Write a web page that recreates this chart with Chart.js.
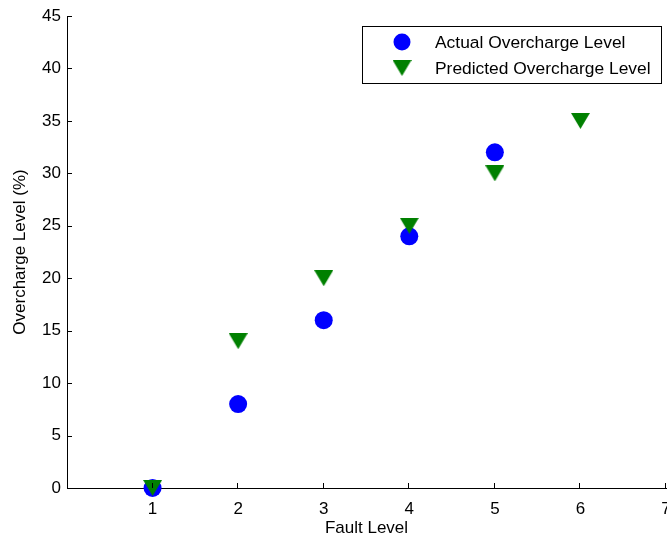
<!DOCTYPE html>
<html>
<head>
<meta charset="utf-8">
<title>Overcharge Level vs Fault Level</title>
<script src="https://cdn.jsdelivr.net/npm/chart.js@4"></script>
<style>
  html, body { margin: 0; padding: 0; background: #fff; }
  canvas { display: block; }
</style>
</head>
<body>
<canvas id="chart" width="667" height="539"></canvas>
<script>
// fault levels and measured / predicted overcharge (%)
const faultLevels = [1, 2, 3, 4, 5, 6];
const actualLevel = [0, 8, 16, 24, 32];
const predictedLevel = [0, 14, 20, 25, 30, 35];
const xTickValues = [1, 2, 3, 4, 5, 6, 7];
const yTickValues = [0, 5, 10, 15, 20, 25, 30, 35, 40, 45];

const seriesNames = ['Actual Overcharge Level', 'Predicted Overcharge Level'];
const FONT = '"Liberation Sans", Arial, Helvetica, sans-serif';
const FONT_SIZE = 17;

// downward triangle marker, centred on its bounding box
function makeTriangle(w, h, color) {
  const c = document.createElement('canvas');
  c.width = w; c.height = h;
  const g = c.getContext('2d');
  g.fillStyle = color;
  g.beginPath();
  g.moveTo(0, 0);
  g.lineTo(w, 0);
  g.lineTo(w / 2, h);
  g.closePath();
  g.fill();
  return c;
}
const triangle = makeTriangle(19, 16, '#008000');

const actualPoints = actualLevel.map((v, i) => ({ x: faultLevels[i], y: v }));
const predictedPoints = predictedLevel.map((v, i) => ({ x: faultLevels[i], y: v }));

// inward tick marks, matlab style
const innerTicks = {
  id: 'innerTicks',
  afterDraw(chart) {
    const { ctx, scales: { x, y }, chartArea } = chart;
    ctx.save();
    ctx.strokeStyle = '#000';
    ctx.lineWidth = 1;
    ctx.beginPath();
    xTickValues.forEach(v => {
      const px = Math.round(x.getPixelForValue(v)) - 0.5;
      ctx.moveTo(px, chartArea.bottom);
      ctx.lineTo(px, chartArea.bottom - 5);
    });
    yTickValues.forEach(v => {
      const py = Math.round(y.getPixelForValue(v)) + 0.5;
      ctx.moveTo(chartArea.left, py);
      ctx.lineTo(chartArea.left + 5, py);
    });
    ctx.stroke();
    ctx.restore();
  }
};

// boxed legend in the upper right of the axes
const boxLegend = {
  id: 'boxLegend',
  afterDraw(chart) {
    const { ctx } = chart;
    const left = 362.5, top = 26.5, w = 299, h = 57;
    ctx.save();
    ctx.fillStyle = '#fff';
    ctx.fillRect(left, top, w, h);
    ctx.strokeStyle = '#000';
    ctx.lineWidth = 1;
    ctx.strokeRect(left, top, w, h);

    ctx.fillStyle = '#0000ff';
    ctx.beginPath();
    ctx.arc(402, 42, 8.5, 0, Math.PI * 2);
    ctx.fill();
    ctx.drawImage(triangle, 402 - triangle.width / 2, 68 - triangle.height / 2);

    ctx.fillStyle = '#000';
    ctx.font = '17.4px ' + FONT;
    ctx.textBaseline = 'middle';
    ctx.textAlign = 'left';
    ctx.fillText(seriesNames[0], 435, 43);
    ctx.fillText(seriesNames[1], 435, 69);
    ctx.restore();
  }
};

new Chart(document.getElementById('chart'), {
  type: 'scatter',
  data: {
    datasets: [
      {
        label: seriesNames[0],
        data: actualPoints,
        pointStyle: 'circle',
        pointRadius: 9,
        pointHoverRadius: 9,
        backgroundColor: '#0000ff',
        borderColor: '#0000ff',
        borderWidth: 0,
        clip: false,
        order: 1
      },
      {
        label: seriesNames[1],
        data: predictedPoints,
        pointStyle: triangle,
        pointRadius: 9,
        backgroundColor: '#008000',
        borderColor: '#008000',
        clip: false,
        order: 0
      }
    ]
  },
  options: {
    responsive: false,
    animation: false,
    events: [],
    layout: { autoPadding: false, padding: { top: 16, right: 1, left: 0, bottom: 0 } },
    plugins: {
      legend: { display: false },
      tooltip: { enabled: false }
    },
    scales: {
      x: {
        type: 'linear',
        min: 0,
        max: 7,
        grid: { display: false, drawTicks: false },
        border: { display: true, color: '#000', width: 1 },
        ticks: {
          stepSize: 1,
          padding: 11,
          color: '#000',
          maxRotation: 0,
          font: { family: FONT, size: FONT_SIZE },
          callback: v => (xTickValues.includes(v) ? String(v) : '')
        },
        title: {
          display: true,
          text: 'Fault Level',
          color: '#000',
          font: { family: FONT, size: FONT_SIZE },
          padding: { top: 0, bottom: 0 }
        },
        afterFit(scale) {
          scale.height = 51;
          scale.paddingLeft = 0;
          scale.paddingRight = 0;
        }
      },
      y: {
        type: 'linear',
        min: 0,
        max: 45,
        grid: { display: false, drawTicks: false },
        border: { display: true, color: '#000', width: 1 },
        ticks: {
          stepSize: 5,
          padding: 6,
          color: '#000',
          font: { family: FONT, size: FONT_SIZE }
        },
        title: {
          display: true,
          text: 'Overcharge Level (%)',
          color: '#000',
          font: { family: FONT, size: FONT_SIZE },
          padding: { top: 10, bottom: 0 }
        },
        afterFit(scale) {
          scale.width = 67;
          scale.paddingTop = 0;
          scale.paddingBottom = 0;
        }
      }
    }
  },
  plugins: [innerTicks, boxLegend]
});
</script>
</body>
</html>
